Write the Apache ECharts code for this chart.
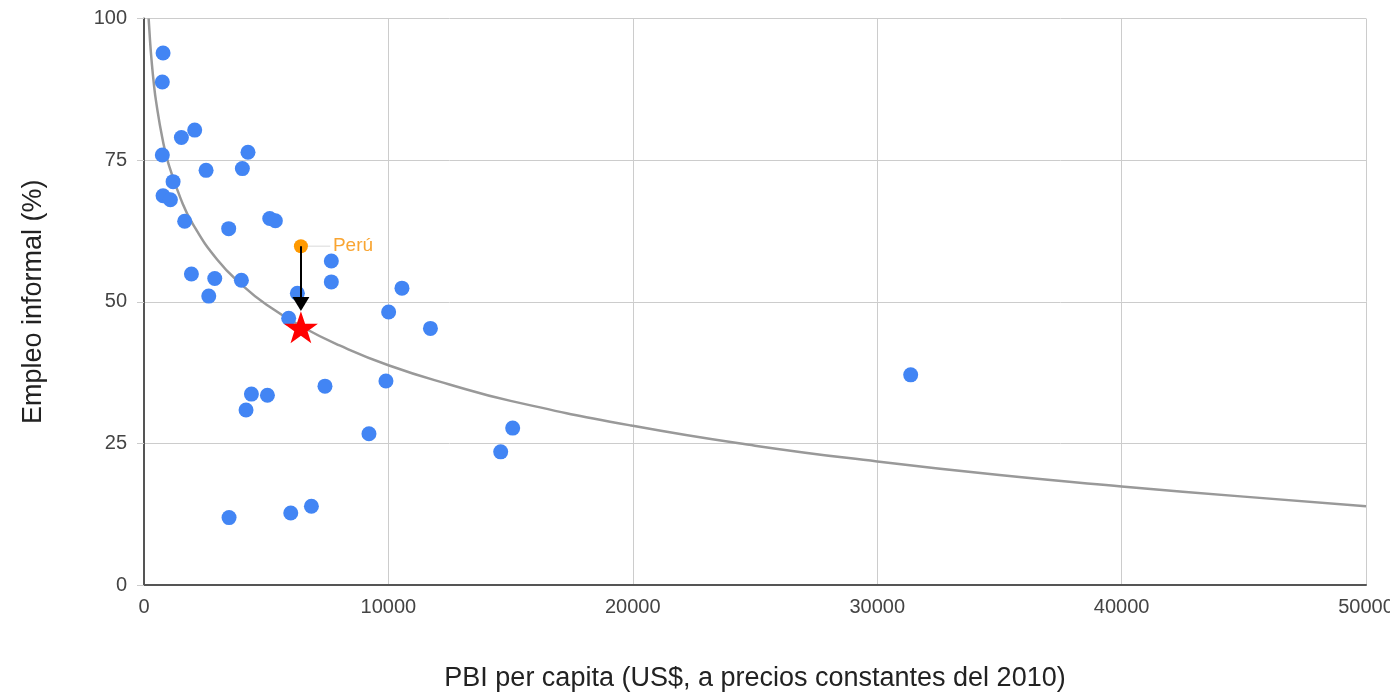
<html>
  <head>
    <meta charset="utf-8" />
    <script src="https://cdn.jsdelivr.net/npm/echarts@6/dist/echarts.min.js"></script>
  </head>
  <body>
    <style>
      html,
      body,
      #main {
        width: 100%;
        height: 100%;
        margin: 0;
        background: #fff;
      }
    </style>
    <div id="main"></div>
    <script>
      // PBI per capita (US$ 2010) and informal employment (%) per country
      const pbi = [
        780, 750, 1530, 2075, 750, 4255, 2540, 4025, 1190, 780, 1080, 1665,
        3465, 5145, 5375, 7665, 7665, 10555, 1940, 2895, 3985, 2650, 6275,
        5920, 10010, 11720, 9900, 7405, 4395, 5050, 4175, 9205, 3480, 6005,
        6850, 14595, 15085, 31370,
      ];
      const informal = [
        93.9, 88.8, 79.0, 80.3, 75.9, 76.4, 73.2, 73.5, 71.2, 68.7, 68.0, 64.2,
        62.9, 64.7, 64.3, 57.2, 53.5, 52.4, 54.9, 54.1, 53.8, 51.0, 51.5,
        47.1, 48.2, 45.3, 36.0, 35.1, 33.7, 33.5, 30.9, 26.7, 11.9, 12.7,
        13.9, 23.5, 27.7, 37.1,
      ];

      const peru = [6420, 59.8];
      const peruTrend = [6420, 45.5];
      const arrowEnd = [6420, 49.6];

      // trend curve
      const trendX = [
        190, 250, 300, 400, 500, 750, 1000, 1500, 2000, 3000, 4000, 5000,
        6500, 8000, 10000, 12500, 15000, 20000, 25000, 30000, 35000, 40000,
        45000, 50000,
      ];
      const trendY = [
        100, 95.9, 93.1, 88.6, 85.2, 78.9, 74.4, 68.2, 63.7, 57.4, 53.0, 49.5,
        45.5, 42.3, 38.8, 35.4, 32.5, 28.1, 24.6, 21.8, 19.4, 17.4, 15.6,
        13.9,
      ];

      const xTicks = [0, 50000, 10000];
      const yTicks = [0, 100, 25];

      const starPath =
        "path://M50,0 L61.8,35.1 L98.1,35.1 L68.8,56.7 L79.4,90.5 L50,69.1 L20.6,90.5 L31.2,56.7 L1.9,35.1 L38.2,35.1 Z";

      var chart = echarts.init(document.getElementById("main"));

      var font = "'Liberation Sans', Arial, sans-serif";

      var option = {
        animation: false,
        textStyle: { fontFamily: font },
        grid: {
          left: 144,
          right: 24,
          top: 18.5,
          bottom: 108,
          outerBoundsMode: "none",
        },
        xAxis: {
          type: "value",
          min: xTicks[0],
          max: xTicks[1],
          interval: xTicks[2],
          name: "PBI per capita (US$, a precios constantes del 2010)",
          nameLocation: "middle",
          nameGap: 80,
          nameTextStyle: { fontSize: 27, color: "#222", fontFamily: font },
          axisLine: { lineStyle: { color: "#555", width: 2 } },
          axisTick: { show: false },
          axisLabel: {
            fontSize: 20,
            color: "#444",
            margin: 12,
            formatter: (v) => String(v),
          },
          splitLine: { lineStyle: { color: "#ccc", width: 1 } },
        },
        yAxis: {
          type: "value",
          min: yTicks[0],
          max: yTicks[1],
          interval: yTicks[2],
          name: "Empleo informal (%)",
          nameLocation: "middle",
          nameGap: 97,
          nameTextStyle: { fontSize: 27, color: "#222", fontFamily: font },
          axisLine: { show: true, lineStyle: { color: "#555", width: 2 } },
          axisTick: {
            show: true,
            length: 7,
            lineStyle: { color: "#ccc" },
          },
          axisLabel: { fontSize: 20, color: "#444", margin: 17 },
          splitLine: { lineStyle: { color: "#ccc", width: 1 } },
        },
        series: [
          {
            type: "line",
            data: trendX.map((x, i) => [x, trendY[i]]),
            smooth: true,
            showSymbol: false,
            lineStyle: { color: "#999", width: 2.5 },
            z: 1,
          },
          {
            type: "scatter",
            data: pbi.map((x, i) => [x, informal[i]]),
            symbolSize: 15,
            itemStyle: { color: "#4285f4", opacity: 1 },
            z: 2,
          },
          {
            type: "scatter",
            data: [peru],
            symbolSize: 14,
            itemStyle: { color: "#ff9900", opacity: 1 },
            label: {
              show: true,
              position: "right",
              distance: 25,
              formatter: "Perú",
              color: "#f9a532",
              fontSize: 19,
            },
            markLine: {
              silent: true,
              symbol: ["none", "triangle"],
              symbolSize: [17, 14],
              label: { show: false },
              lineStyle: { color: "#000", width: 2, type: "solid" },
              data: [[{ coord: peru }, { coord: arrowEnd }]],
            },
            z: 3,
          },
          {
            type: "scatter",
            data: [peruTrend],
            symbol: starPath,
            symbolSize: [34, 32],
            itemStyle: { color: "#ff0000", opacity: 1 },
            z: 4,
          },
          {
            // faint leader line to the Perú label
            type: "line",
            data: [peru, [peru[0] + 1200, peru[1]]],
            showSymbol: false,
            lineStyle: { color: "#e6e6e6", width: 1.5 },
            z: 0,
          },
        ],
      };

      chart.setOption(option);

      window.onresize = chart.resize;
    </script>
  </body>
</html>
